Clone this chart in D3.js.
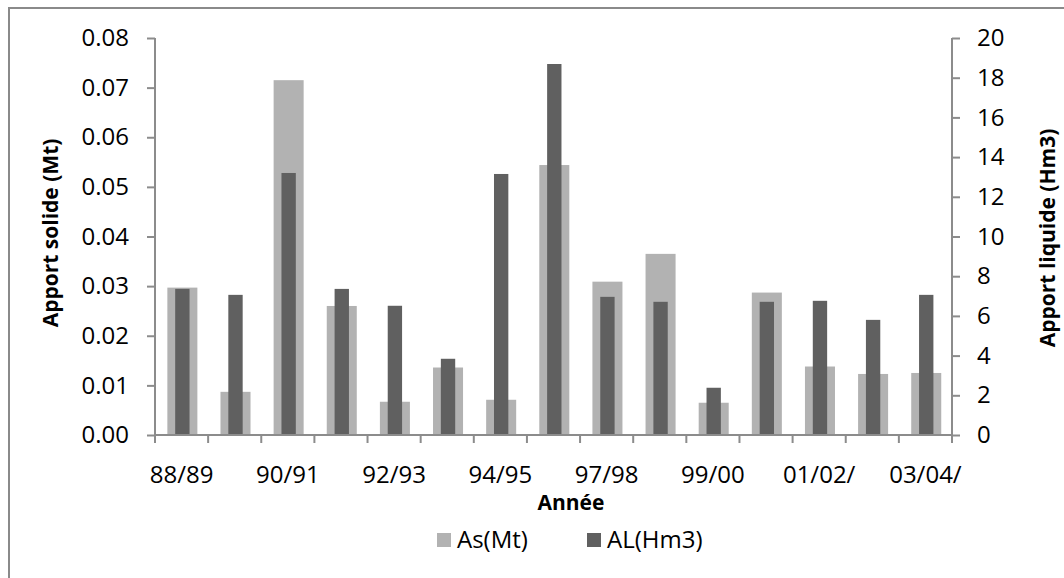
<!DOCTYPE html>
<html>
<head>
<meta charset="utf-8">
<script src="https://cdn.jsdelivr.net/npm/d3@7"></script>
<style>
  html, body { margin: 0; padding: 0; background: #fff; }
  svg { display: block; }
  text { font-family: "Open Sans", "Noto Sans", sans-serif; fill: #000; }
</style>
</head>
<body>
<svg id="chart" width="1064" height="578"></svg>
<script>
const categories = ["88/89","89/90","90/91","91/92","92/93","93/94","94/95","95/96","97/98","98/99","99/00","00/01","01/02/","02/03/","03/04/"];
const shownLabels = ["88/89","90/91","92/93","94/95","97/98","99/00","01/02/","03/04/"];
const asValues = [0.0297,0.0087,0.0715,0.0260,0.0067,0.0136,0.0071,0.0544,0.0309,0.0365,0.0065,0.0287,0.0138,0.0123,0.0125];
const alValues = [7.36,7.06,13.2,7.36,6.51,3.84,13.15,18.69,6.96,6.71,2.38,6.71,6.76,5.80,7.06];
const leftTicks = [0,0.01,0.02,0.03,0.04,0.05,0.06,0.07,0.08];
const rightTicks = [0,2,4,6,8,10,12,14,16,18,20];
const seriesNames = ["As(Mt)","AL(Hm3)"];

const colLight = "#b2b2b2", colDark = "#606060", axisCol = "#8c8c8c";
const svg = d3.select("#chart");
const L = 155, R = 952, T = 38, B = 435;
const FS = 24, TFS = 21;

// outer border
svg.append("rect").attr("x",9).attr("y",8).attr("width",1100).attr("height",620)
  .attr("fill","none").attr("stroke","#8a8a8a").attr("stroke-width",2);

const x = d3.scaleBand().domain(categories).range([L,R]).padding(0);
const yL = d3.scaleLinear().domain([0,0.08]).range([B,T]);
const yR = d3.scaleLinear().domain([0,20]).range([B,T]);
const bw = x.bandwidth();
const wLight = bw*0.565, wDark = bw*0.27;

// bars
svg.append("g").selectAll("rect").data(categories).join("rect")
  .attr("x", (d)=> x(d)+bw/2+0.8-wLight/2)
  .attr("y", (d,i)=> yL(asValues[i]))
  .attr("width", wLight)
  .attr("height", (d,i)=> B - yL(asValues[i]))
  .attr("fill", colLight);
svg.append("g").selectAll("rect").data(categories).join("rect")
  .attr("x", (d)=> x(d)+bw/2+0.8-wDark/2)
  .attr("y", (d,i)=> yR(alValues[i]))
  .attr("width", wDark)
  .attr("height", (d,i)=> B - yR(alValues[i]))
  .attr("fill", colDark);

// left axis
const gL = svg.append("g").attr("transform",`translate(${L},0)`)
  .call(d3.axisLeft(yL).tickValues(leftTicks).tickFormat(d3.format(".2f")).tickSize(8).tickPadding(18));
// right axis
const gR = svg.append("g").attr("transform",`translate(${R},0)`)
  .call(d3.axisRight(yR).tickValues(rightTicks).tickFormat(d3.format("d")).tickSize(8).tickPadding(17));
// bottom axis: ticks at category boundaries
const boundaries = categories.map(c=>x(c)).concat([R]);
const gB = svg.append("g").attr("transform",`translate(0,${B})`);
gB.append("line").attr("x1",L).attr("x2",R).attr("y1",0).attr("y2",0).attr("stroke",axisCol).attr("stroke-width",2);
gB.selectAll("line.tk").data(boundaries).join("line").attr("class","tk")
  .attr("x1",d=>d).attr("x2",d=>d).attr("y1",0).attr("y2",8)
  .attr("stroke",axisCol).attr("stroke-width",2);
gB.selectAll("text").data(shownLabels).join("text")
  .attr("x", d=> x(d)+bw/2).attr("y", 48)
  .attr("text-anchor","middle").attr("font-size",FS).text(d=>d);

[gL,gR].forEach(g=>{
  g.selectAll(".domain").attr("stroke",axisCol).attr("stroke-width",2);
  g.selectAll(".tick line").attr("stroke",axisCol).attr("stroke-width",2);
  g.selectAll(".tick text").attr("font-size",FS).attr("font-family","Open Sans").attr("fill","#000");
});
gL.select(".domain").attr("d",`M0,${B}V${T}`);
gR.select(".domain").attr("d",`M0,${B}V${T}`);

// axis titles
svg.append("text").attr("transform","translate(58,233) rotate(-90)")
  .attr("text-anchor","middle").attr("font-size",TFS).attr("font-weight","bold").text("Apport solide (Mt)");
svg.append("text").attr("transform","translate(1055,238) rotate(-90)")
  .attr("text-anchor","middle").attr("font-size",TFS).attr("font-weight","bold").text("Apport liquide (Hm3)");
svg.append("text").attr("x",571).attr("y",510)
  .attr("text-anchor","middle").attr("font-size",TFS).attr("font-weight","bold").text("Année");

// legend
const legend = svg.append("g");
const lx = [437, 587];
const lc = [colLight, colDark];
seriesNames.forEach((n,i)=>{
  legend.append("rect").attr("x",lx[i]).attr("y",533).attr("width",14).attr("height",14).attr("fill",lc[i]);
  legend.append("text").attr("x",lx[i]+20).attr("y",548).attr("font-size",FS).text(n);
});
</script>
</body>
</html>
